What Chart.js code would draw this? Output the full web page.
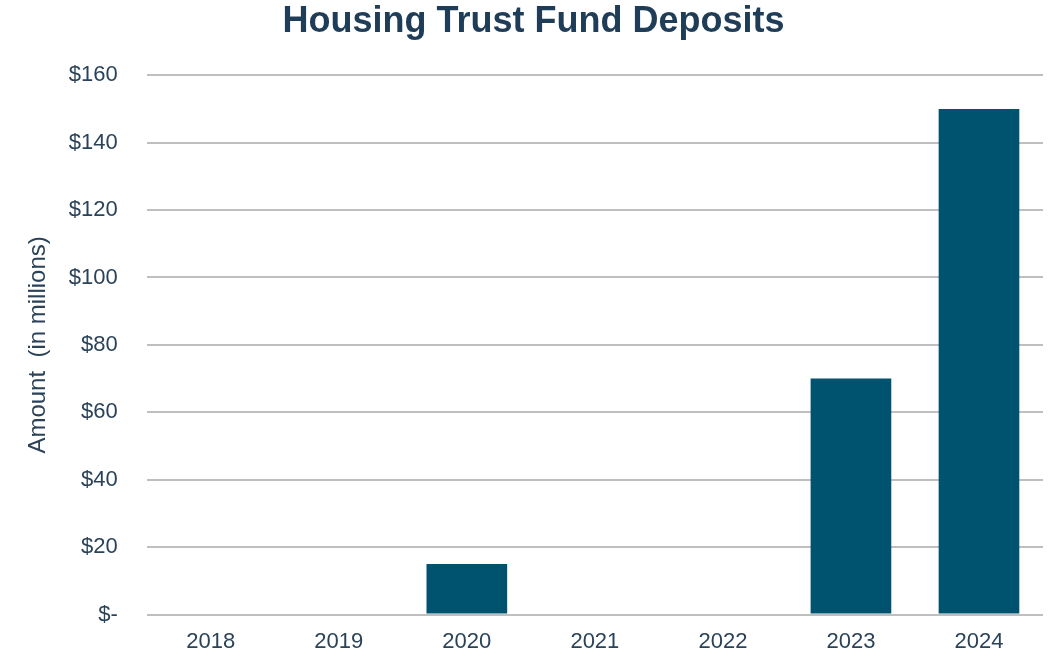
<!DOCTYPE html>
<html>
<head>
<meta charset="utf-8">
<title>Housing Trust Fund Deposits</title>
<script src="https://cdn.jsdelivr.net/npm/chart.js@4/dist/chart.umd.min.js"></script>
<style>
  html, body { margin: 0; padding: 0; background: #fff; }
  #wrap { width: 1054px; height: 657px; }
</style>
</head>
<body>
<div id="wrap"><canvas id="depositChart" width="1054" height="657"></canvas></div>
<script>
const years = ['2018', '2019', '2020', '2021', '2022', '2023', '2024'];
const deposits = [0, 0, 15, 0, 0, 70, 150];
const yTicks = [0, 20, 40, 60, 80, 100, 120, 140, 160];

const textColor = '#1f3d57';
const barColor = '#00536f';
const gridColor = '#bfbfbf';
const fontFamily = 'Liberation Sans, Arial, sans-serif';

const ctx = document.getElementById('depositChart').getContext('2d');
new Chart(ctx, {
    type: 'bar',
    data: {
        labels: years,
        datasets: [
            {
                label: 'Deposits',
                data: deposits,
                backgroundColor: barColor,
                borderWidth: 0,
                barPercentage: 0.63,
                categoryPercentage: 1,
            },
        ],
    },
    options: {
        responsive: false,
        animation: false,
        layout: { padding: { left: 24, right: 11, top: 0, bottom: -12 } },
        plugins: {
            legend: { display: false },
            tooltip: { enabled: false },
            title: {
                display: true,
                text: 'Housing Trust Fund Deposits',
                color: textColor,
                font: { family: fontFamily, size: 36, weight: 'bold' },
                padding: { top: 0, bottom: 32 },
            },
        },
        scales: {
            x: {
                grid: { display: false, drawTicks: false },
                border: { display: false },
                ticks: {
                    color: '#2b4359',
                    font: { family: fontFamily, size: 22 },
                    padding: 14,
                },
            },
            y: {
                min: 0,
                max: 160,
                afterBuildTicks: axis => {
                    axis.ticks = yTicks.map(v => ({ value: v }));
                },
                grid: { color: gridColor, lineWidth: 2, drawTicks: false },
                border: { display: false },
                ticks: {
                    color: '#2b4359',
                    font: { family: fontFamily, size: 22 },
                    padding: 29,
                    callback: v => (v === 0 ? '$-' : '$' + v),
                },
                title: {
                    display: true,
                    text: 'Amount  (in millions)',
                    color: '#2b4359',
                    font: { family: fontFamily, size: 24 },
                    padding: { top: 0, bottom: -13 },
                },
            },
        },
    },
});
</script>
</body>
</html>
